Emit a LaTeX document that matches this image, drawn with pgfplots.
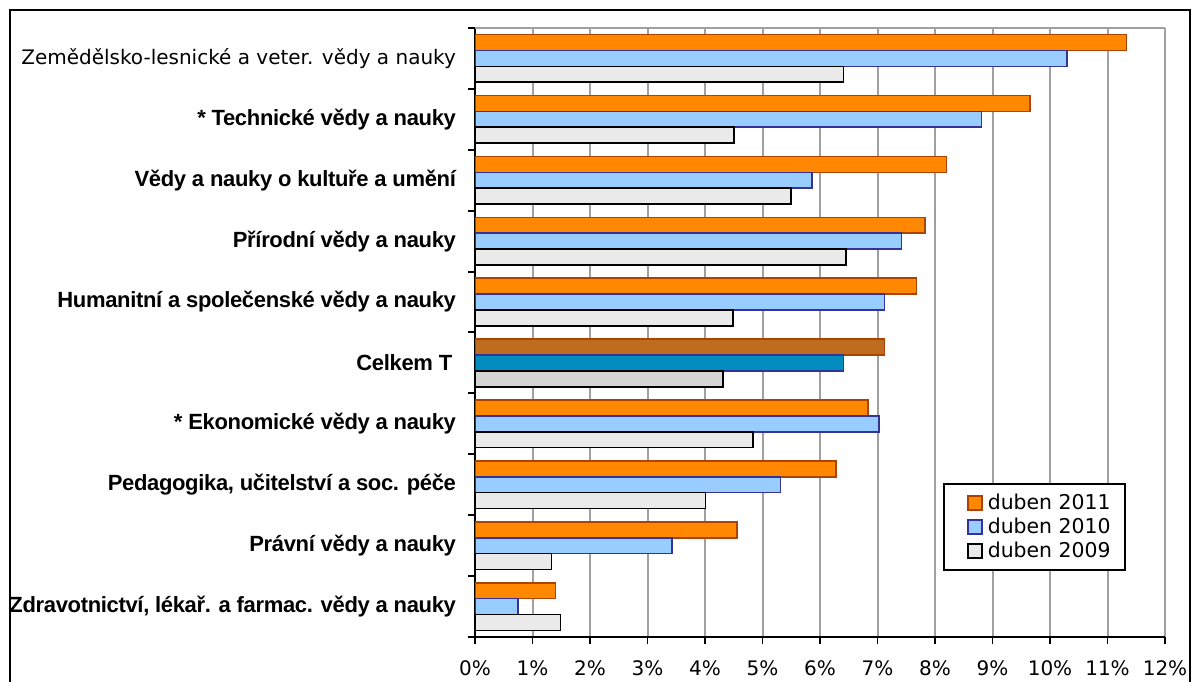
\documentclass[border=0pt]{standalone}
\usepackage{pgfplots}
\pgfplotsset{compat=1.18}
\usepackage{fontspec}
\setmainfont{DejaVu Sans}
\newfontfamily\labfont{Liberation Sans}[LetterSpace=-1.5]

\definecolor{or11}{RGB}{255,136,0}
\definecolor{or11d}{RGB}{170,68,0}
\definecolor{bl10}{RGB}{153,204,255}
\definecolor{bl10d}{RGB}{51,51,153}
\definecolor{gr09}{RGB}{234,234,234}
\definecolor{orT}{RGB}{189,108,32}
\definecolor{blT}{RGB}{0,140,190}
\definecolor{grT}{RGB}{212,212,212}
\definecolor{gridc}{RGB}{160,160,160}

\begin{document}
\begin{tikzpicture}
\useasboundingbox (0,0) rectangle (596pt,340.5pt);
\draw[line width=1pt] (5pt,-3pt) -- (5pt,335.5pt) -- (595pt,335.5pt) -- (595pt,-3pt);
\begin{axis}[
  at={(237.5pt,22pt)}, anchor=south west,
  scale only axis, width=345pt, height=304.5pt,
  xmin=0, xmax=12, ymin=-0.5, ymax=9.5,
  xbar, bar width=0.26,
  axis lines=left,
  axis line style={-, line width=1pt, black},
  tick align=outside,
  major tick length=3.5pt, minor tick length=3.5pt,
  xtick={0,...,12},
  xticklabels={0\%,1\%,2\%,3\%,4\%,5\%,6\%,7\%,8\%,9\%,10\%,11\%,12\%},
  xticklabel style={font=\fontsize{10}{12}\selectfont, yshift=-5pt},
  x tick style={black, line width=0.8pt},
  xmajorgrids,
  grid style={gridc, line width=1pt},
  ytick={0,...,9},
  yticklabels={
    {\labfont\bfseries Zdravotnictví, lékař. a farmac. vědy a nauky},
    {\labfont\bfseries Právní vědy a nauky},
    {\labfont\bfseries Pedagogika, učitelství a soc. péče},
    {\labfont\bfseries * Ekonomické vědy a nauky},
    {\labfont\bfseries Celkem T\,},
    {\labfont\bfseries Humanitní a společenské vědy a nauky},
    {\labfont\bfseries Přírodní vědy a nauky},
    {\labfont\bfseries Vědy a nauky o kultuře a umění},
    {\labfont\bfseries * Technické vědy a nauky},
    {\fontsize{10}{12}\selectfont Zemědělsko-lesnické a veter. vědy a nauky}},
  yticklabel style={font=\fontsize{11}{13}\selectfont, anchor=east, xshift=-2.5pt},
  major y tick style={draw=none},
  minor ytick={-0.5,0.5,...,9.5},
  minor y tick style={black, line width=1pt},
  legend style={at={(0.678,0.108)}, anchor=south west, draw=black,
    line width=1pt, font=\fontsize{10.2}{11}\selectfont,
    inner xsep=5pt, inner ysep=3pt, row sep=-1.3pt},
  legend cell align=left,
  legend image code/.code={\path[draw=none,fill=none] (0pt,0pt) -- (15pt,0pt);
    \draw[#1,/tikz/.cd,line width=0.8pt] (7pt,-3.5pt) rectangle (14pt,3.5pt);},
]
\draw[gridc, line width=1pt] (rel axis cs:0,1) -- (rel axis cs:1,1);
% duben 2011
\addplot[bar shift=0.26, fill=or11, draw=or11d, line width=0.8pt] coordinates {
(1.40,0) (4.56,1) (6.28,2) (6.83,3) (7.68,5) (7.83,6) (8.20,7) (9.65,8) (11.33,9)
};
\addlegendentry{duben 2011}
% duben 2010
\addplot[bar shift=0, fill=bl10, draw=bl10d, line width=0.8pt] coordinates {
(0.75,0) (3.43,1) (5.31,2) (7.03,3) (7.12,5) (7.42,6) (5.86,7) (8.81,8) (10.30,9)
};
\addlegendentry{duben 2010}
% duben 2009
\addplot[bar shift=-0.26, fill=gr09, draw=black, line width=0.8pt] coordinates {
(1.49,0) (1.33,1) (4.01,2) (4.83,3) (4.49,5) (6.45,6) (5.50,7) (4.50,8) (6.41,9)
};
\addlegendentry{duben 2009}
% Celkem T
\addplot[forget plot, bar shift=0.26, fill=orT, draw=or11d, line width=0.8pt] coordinates {(7.12,4)};
\addplot[forget plot, bar shift=0, fill=blT, draw=bl10d, line width=0.8pt] coordinates {(6.41,4)};
\addplot[forget plot, bar shift=-0.26, fill=grT, draw=black, line width=0.8pt] coordinates {(4.31,4)};
\end{axis}
\end{tikzpicture}
\end{document}
